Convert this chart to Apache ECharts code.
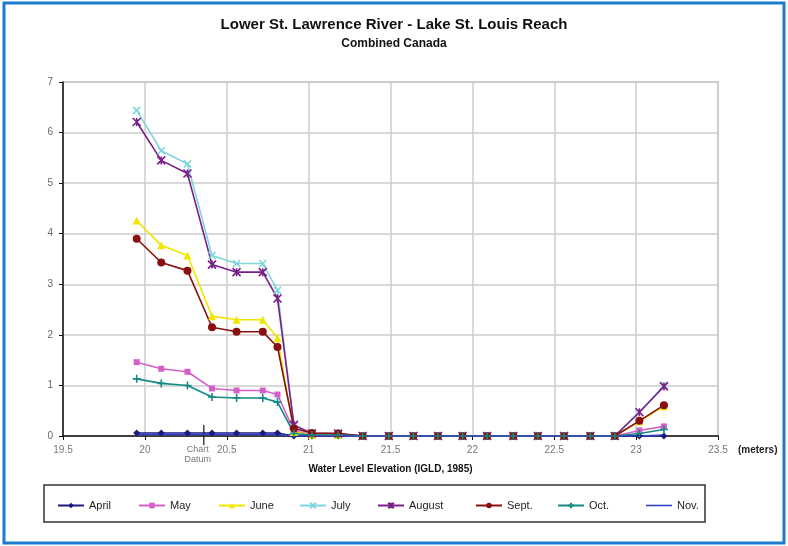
<!DOCTYPE html>
<html>
<head>
<meta charset="utf-8">
<script src="https://cdn.jsdelivr.net/npm/echarts@6/dist/echarts.min.js"></script>
<style>
  html, body { margin: 0; padding: 0; background: #fff; }
  #main { width: 788px; height: 546px; }
</style>
</head>
<body>
<div id="main"></div>
<script>
// water level elevation (m, IGLD 1985)
const elevation = [19.95, 20.10, 20.26, 20.41, 20.56, 20.72, 20.81, 20.91, 21.02, 21.18, 21.33, 21.49,
  21.64, 21.79, 21.94, 22.09, 22.25, 22.40, 22.56, 22.72, 22.87, 23.02, 23.17];

const april = [0.06, 0.06, 0.06, 0.06, 0.06, 0.06, 0.06, 0, 0, 0, 0, 0, 0, 0, 0, 0, 0, 0, 0, 0, 0, 0, 0];
const may = [1.46, 1.33, 1.27, 0.94, 0.90, 0.90, 0.82, 0.10, 0.03, 0.03, 0, 0, 0, 0, 0, 0, 0, 0, 0, 0, 0, 0.11, 0.19];
const june = [4.26, 3.77, 3.57, 2.37, 2.30, 2.30, 1.94, 0.08, 0.02, 0.02, 0, 0, 0, 0, 0, 0, 0, 0, 0, 0, 0, 0.29, 0.59];
const july = [6.44, 5.64, 5.38, 3.57, 3.41, 3.41, 2.88, 0.20, 0.05, 0.04, 0, 0, 0, 0, 0, 0, 0, 0, 0, 0, 0, 0.48, 1.0];
const august = [6.21, 5.45, 5.19, 3.39, 3.24, 3.24, 2.72, 0.22, 0.05, 0.05, 0, 0, 0, 0, 0, 0, 0, 0, 0, 0, 0, 0.47, 0.98];
const sept = [3.90, 3.43, 3.27, 2.15, 2.06, 2.06, 1.76, 0.15, 0.06, 0.05, 0, 0, 0, 0, 0, 0, 0, 0, 0, 0, 0, 0.30, 0.61];
const oct = [1.13, 1.04, 1.00, 0.77, 0.75, 0.75, 0.67, 0.05, 0.02, 0.02, 0, 0, 0, 0, 0, 0, 0, 0, 0, 0, 0, 0.05, 0.13];
const nov = [0.03, 0.03, 0.03, 0.03, 0.03, 0.03, 0.03, 0, 0, 0, 0, 0, 0, 0, 0, 0, 0, 0, 0, 0, 0, 0, 0.02];

const monthNames = ["April", "May", "June", "July", "August", "Sept.", "Oct.", "Nov."];
const monthValues = [april, may, june, july, august, sept, oct, nov];
const monthColors = ["#1a1a80", "#d45fc8", "#f2e600", "#7fd6dc", "#7a1f8a", "#8a0f10", "#138a84", "#3344cc"];

const chartDatum = 20.36;

const X_MARK = "path://M0,0L10,10M0,10L10,0";
const STAR_MARK = "path://M0,0L10,10M0,10L10,0M5,0L5,10";
const PLUS_MARK = "path://M5,0L5,10M0,5L10,5";
const monthSymbols = ["diamond", "rect", "triangle", X_MARK, STAR_MARK, "circle", PLUS_MARK, "none"];
const monthSymbolSizes = [7, 6, 8, 7, 8, 8, 8, 0];

// legend item left edges (px)
const legendLeft = [52, 133, 213, 294, 372, 470, 552, 641];

const font = "'Liberation Sans', Arial, sans-serif";

const chartDom = document.getElementById("main");
const myChart = echarts.init(chartDom);

const series = monthNames.map((name, i) => {
  const pathMark = monthSymbols[i].startsWith("path://");
  return {
    name: name,
    type: "line",
    data: elevation.map((x, j) => [x, monthValues[i][j]]),
    symbol: monthSymbols[i],
    symbolSize: monthSymbolSizes[i],
    showSymbol: monthSymbols[i] !== "none",
    color: monthColors[i],
    lineStyle: { width: 1.6, color: monthColors[i] },
    itemStyle: {
      color: pathMark ? "none" : monthColors[i],
      borderColor: monthColors[i],
      borderWidth: pathMark ? 1.6 : 0,
    },
    emphasis: { disabled: true },
    animation: false,
  };
});

// Nov. has no marker: show a plain line in its legend entry
const legends = monthNames.map((name, i) => {
  const lineOnly = monthSymbols[i] === "none";
  return {
    data: lineOnly ? [{ name: name, icon: "rect" }] : [name],
    left: legendLeft[i],
    top: 495,
    itemWidth: 26,
    itemHeight: lineOnly ? 1.6 : 7,
    textStyle: { fontFamily: font, fontSize: 11, color: "#222" },
    selectedMode: false,
  };
});

const option = {
  backgroundColor: "#fff",
  title: {
    text: "Lower St. Lawrence River - Lake St. Louis Reach",
    subtext: "Combined Canada",
    left: "center",
    top: 12,
    itemGap: 6,
    textStyle: { fontFamily: font, fontSize: 15, fontWeight: "bold", color: "#111" },
    subtextStyle: { fontFamily: font, fontSize: 12, fontWeight: "bold", color: "#111" },
  },
  legend: legends,
  grid: {
    left: 63,
    right: 70,
    top: 82,
    bottom: 110,
    show: true,
    borderColor: "#b8b8b8",
    borderWidth: 1.5,
  },
  xAxis: {
    type: "value",
    min: 19.5,
    max: 23.5,
    interval: 0.5,
    name: "Water Level Elevation (IGLD, 1985)",
    nameLocation: "middle",
    nameGap: 28,
    nameTextStyle: { fontFamily: font, fontSize: 10, fontWeight: "bold", color: "#111" },
    axisLine: { onZero: false, lineStyle: { color: "#111", width: 1.5 } },
    axisTick: { show: true, length: 4, lineStyle: { color: "#111" } },
    axisLabel: { fontFamily: font, fontSize: 10, color: "#777", margin: 9 },
    splitLine: { show: true, lineStyle: { color: "#cccccc", width: 1.5 } },
  },
  yAxis: {
    type: "value",
    min: 0,
    max: 7,
    interval: 1,
    axisLine: { show: true, lineStyle: { color: "#111", width: 1.5 } },
    axisTick: { show: true, length: 4, lineStyle: { color: "#111" } },
    axisLabel: { fontFamily: font, fontSize: 10, color: "#666", margin: 10 },
    splitLine: { show: true, lineStyle: { color: "#cccccc", width: 1.5 } },
  },
  series: series,
};

option && myChart.setOption(option);

// frame, legend box, chart datum mark and units label
const datumX = myChart.convertToPixel({ xAxisIndex: 0 }, chartDatum);
const zeroY = myChart.convertToPixel({ yAxisIndex: 0 }, 0);
const axisEndX = myChart.convertToPixel({ xAxisIndex: 0 }, 23.5);

myChart.setOption({
  graphic: [
    {
      type: "rect",
      shape: { x: 4, y: 3, width: 780, height: 540 },
      style: { fill: "none", stroke: "#1b7ccf", lineWidth: 3 },
      silent: true,
    },
    {
      type: "rect",
      shape: { x: 44, y: 485, width: 661, height: 37 },
      style: { fill: "none", stroke: "#333", lineWidth: 1.5 },
      silent: true,
      z: -1,
    },
    {
      type: "line",
      shape: { x1: datumX, y1: zeroY - 11, x2: datumX, y2: zeroY + 9 },
      style: { stroke: "#111", lineWidth: 1.2 },
      silent: true,
    },
    {
      type: "text",
      x: datumX - 6,
      y: zeroY + 9,
      style: {
        text: "Chart\nDatum",
        fontFamily: font,
        fontSize: 9,
        fill: "#777",
        align: "center",
        lineHeight: 10,
      },
      silent: true,
    },
    {
      type: "text",
      x: axisEndX + 20,
      y: zeroY + 9,
      style: {
        text: "(meters)",
        fontFamily: font,
        fontSize: 10,
        fontWeight: "bold",
        fill: "#222",
      },
      silent: true,
    },
  ],
});
</script>
</body>
</html>
